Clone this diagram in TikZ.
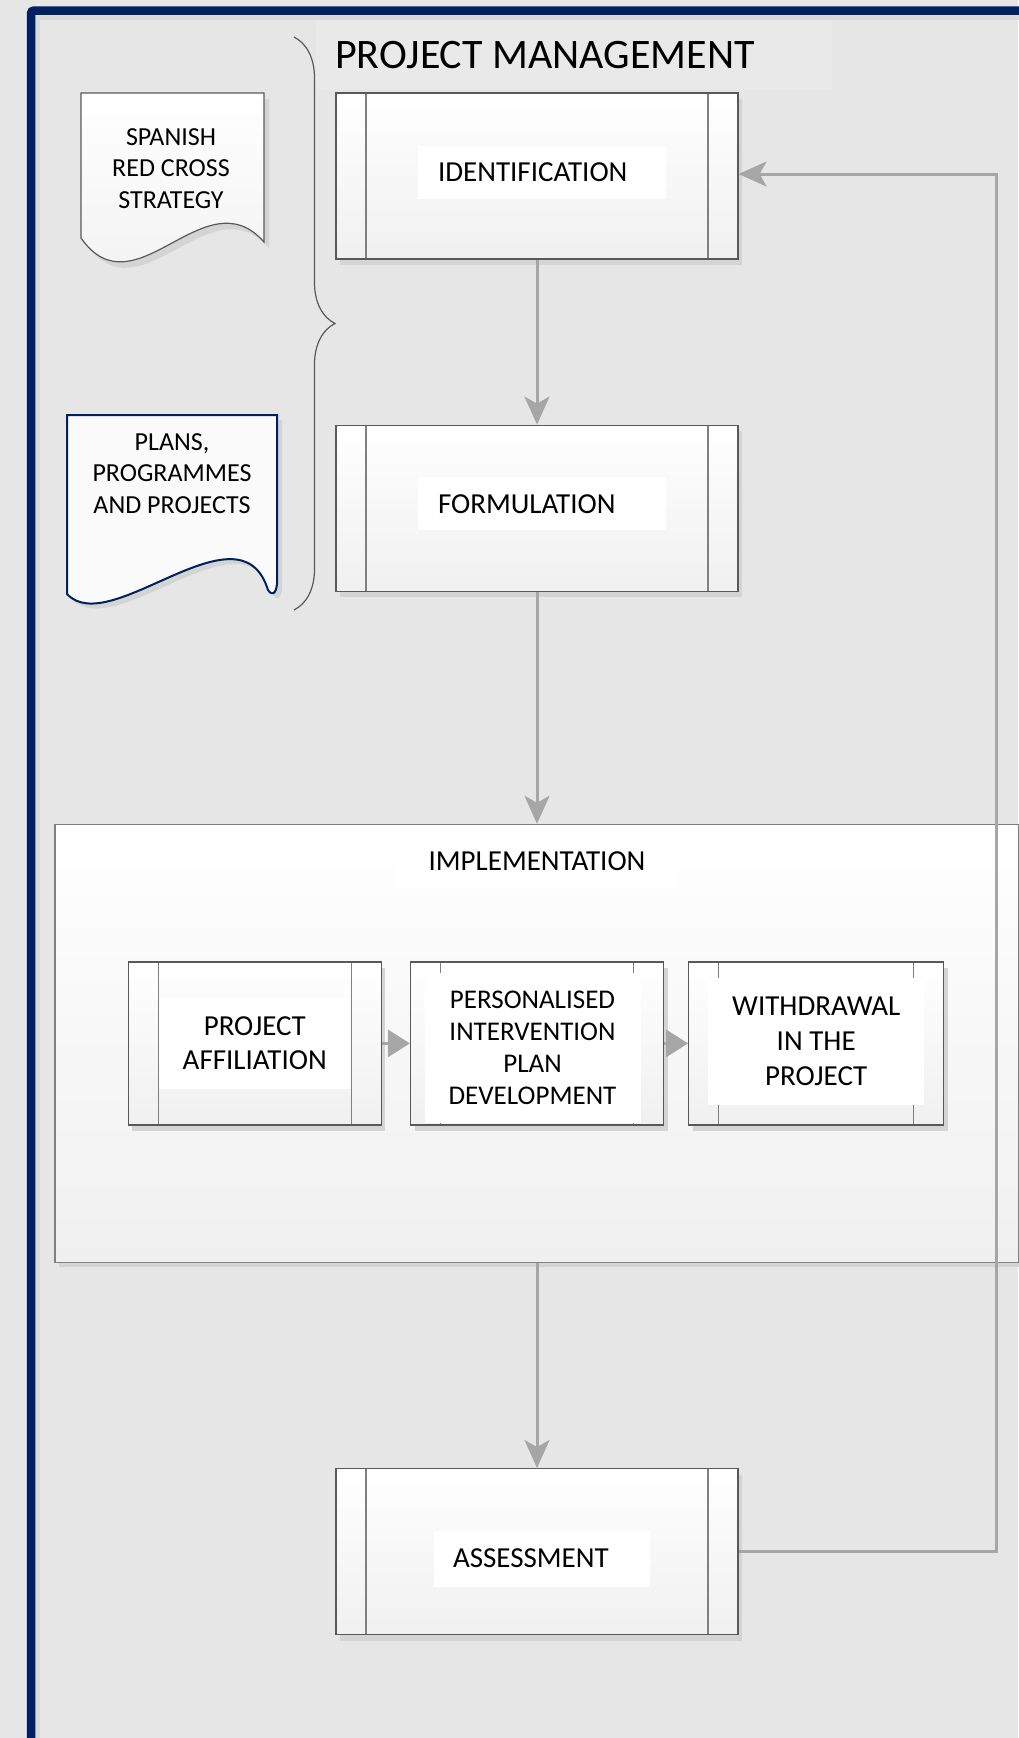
\documentclass[tikz,border=0pt]{standalone}
\usepackage{fontspec}
\setmainfont{Carlito}
\usetikzlibrary{positioning, arrows.meta, shadows, decorations.pathreplacing}

\definecolor{pagebg}{HTML}{E6E6E6}
\definecolor{framenavy}{HTML}{002060}
\definecolor{framestrip}{HTML}{D9D9D9}
\definecolor{headbg}{HTML}{E9E9E9}
\definecolor{boxline}{HTML}{595959}
\definecolor{innerline}{HTML}{808080}
\definecolor{boxbot}{HTML}{F0F0F0}
\definecolor{shadowgray}{HTML}{D4D4D4}
\definecolor{flowgray}{HTML}{A6A6A6}

\begin{document}
\begin{tikzpicture}[x=1pt, y=-1pt,
        procbox/.style={draw=boxline, line width=1.2pt, top color=white, bottom color=boxbot,
            drop shadow={shadow xshift=4pt, shadow yshift=-6pt, fill=shadowgray, opacity=1},
            inner sep=0pt,
            path picture={
                \draw[innerline, line width=1.2pt] ([xshift=30pt]path picture bounding box.north west) -- ([xshift=30pt]path picture bounding box.south west);
                \draw[innerline, line width=1.2pt] ([xshift=-30pt]path picture bounding box.north east) -- ([xshift=-30pt]path picture bounding box.south east);
            }},
        mainbox/.style={procbox, minimum width=402pt, minimum height=166pt},
        subbox/.style={procbox, minimum width=253pt, minimum height=163pt},
        contbox/.style={draw=innerline, line width=1.2pt, top color=white, bottom color=boxbot,
            drop shadow={shadow xshift=4pt, shadow yshift=-5pt, fill=shadowgray, opacity=1},
            minimum width=964pt, minimum height=438pt, inner sep=0pt},
        labelbg/.style={fill=white, inner sep=0pt, align=center},
        bigtext/.style={font=\fontsize{29pt}{35pt}\selectfont},
        doctext/.style={font=\fontsize{26pt}{31.5pt}\selectfont, align=center, inner sep=0pt},
        flow/.style={draw=flowgray, line width=3pt, -{Stealth[length=28pt, width=25pt, inset=7pt]}},
        subflow/.style={draw=flowgray, line width=3pt, -{Triangle[length=22pt, width=27pt]}}]

    \useasboundingbox (0,0) rectangle (1018,1738);

    % Page and frame
    \fill[pagebg] (0,0) rectangle (1018,1738);
    \fill[headbg] (316,17) rectangle (832,89);
    \draw[framestrip, line width=5pt] (37.5,1760) -- (37.5,17.5) -- (1040,17.5);
    \draw[framenavy, line width=8.5pt, rounded corners=3pt] (31,1760) -- (31,10.5) -- (1040,10.5);

    \node[font=\fontsize{42pt}{50pt}\selectfont, anchor=base west, inner sep=0pt] (title) at (335,68) {PROJECT MANAGEMENT};

    % Documents on the left
    \draw[boxline, line width=1.2pt, top color=white, bottom color=boxbot,
          drop shadow={shadow xshift=5pt, shadow yshift=-6pt, fill=shadowgray, opacity=1}]
        (81,93) -- (264,93) -- (264,242) .. controls (205,175) and (135,315) .. (81,238) -- cycle;
    \node[doctext] (stratlbl) at (171,168.5) {SPANISH\\RED CROSS\\STRATEGY};

    \draw[framenavy, line width=2pt, fill=white!98!black,
          drop shadow={shadow xshift=5pt, shadow yshift=-5pt, fill=shadowgray, opacity=1}]
        (67,415) -- (277,415) -- (277,584) .. controls (276,594) and (272,596) .. (268,590)
        .. controls (240,500) and (110,640) .. (67,594) -- cycle;
    \node[doctext] (planslbl) at (172,473.5) {PLANS,\\PROGRAMMES\\AND PROJECTS};

    \draw[boxline, line width=1.2pt, decorate, decoration={brace, amplitude=41pt}] (294,37) -- (294,610);

    % Main column
    \node[mainbox] (ident) at (537,176) {};
    \node[labelbg, bigtext, text width=208pt, align=left, inner xsep=20pt, minimum height=53pt]
        (identlbl) at ([xshift=5pt, yshift=3.5pt]ident.center) {IDENTIFICATION};

    \node[mainbox, below=165pt of ident] (formul) {};
    \node[labelbg, bigtext, text width=208pt, align=left, inner xsep=20pt, minimum height=53pt]
        (formullbl) at ([xshift=5pt, yshift=4.5pt]formul.center) {FORMULATION};

    \node[contbox, below=232pt of formul] (impl) {};
    \node[labelbg, bigtext, minimum width=283pt, minimum height=53pt, below=11pt of impl.north] (impllbl) {IMPLEMENTATION};

    % Steps inside implementation
    \node[subbox] (persn) at (impl.center) {};
    \node[subbox, left=28pt of persn] (affil) {};
    \node[subbox, right=24pt of persn, minimum width=255pt] (withd) {};
    \node[labelbg, font=\fontsize{29pt}{34pt}\selectfont, minimum width=192pt, minimum height=91pt]
        (affillbl) at (affil.center) {PROJECT\\AFFILIATION};
    \node[labelbg, font=\fontsize{27pt}{32pt}\selectfont, minimum width=216pt, minimum height=150pt]
        (persnlbl) at ([xshift=-4.5pt, yshift=-4.5pt]persn.center) {PERSONALISED\\INTERVENTION\\PLAN\\DEVELOPMENT};
    \node[labelbg, bigtext, minimum width=216pt, minimum height=127pt]
        (withdlbl) at ([yshift=2pt]withd.center) {WITHDRAWAL\\IN THE\\PROJECT};

    \node[mainbox, below=205pt of impl] (assess) {};
    \node[labelbg, bigtext, text width=178pt, align=left, inner xsep=19pt, minimum height=56pt]
        (assesslbl) at ([xshift=5pt, yshift=-7pt]assess.center) {ASSESSMENT};

    % Connectors
    \draw[flow] (ident) -- (formul);
    \draw[flow] (formul) -- (impl);
    \draw[flow] (impl) -- (assess);
    \draw[subflow] (affil) -- (persn);
    \draw[subflow] (persn) -- (withd);

    \coordinate (loopturn) at (996,174);
    \draw[flow] (assess.east) -| (loopturn) -- (loopturn -| ident.east);

\end{tikzpicture}
\end{document}
